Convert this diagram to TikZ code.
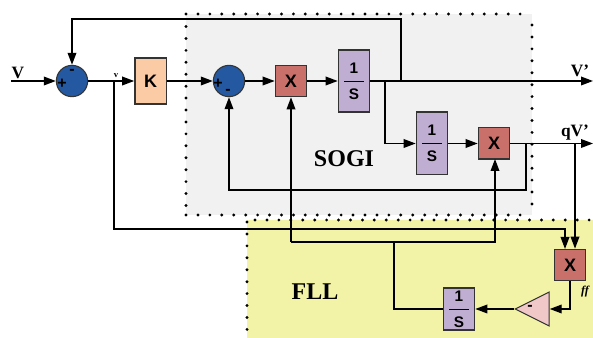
\documentclass[tikz,border=0pt]{standalone}
\usepackage{amsmath}
\usepackage{fontspec}
\setmainfont{Liberation Serif}
\setsansfont{Liberation Sans}
\usetikzlibrary{arrows.meta,shapes.geometric}
\definecolor{sogigray}{HTML}{F1F1F1}
\definecolor{fllyellow}{HTML}{F3F3A8}
\definecolor{sumblue}{HTML}{2458A0}
\definecolor{gainorange}{HTML}{FBCBA5}
\definecolor{multred}{HTML}{C9706A}
\definecolor{intpurple}{HTML}{BFAED2}
\definecolor{trianglepink}{HTML}{F0C8C8}
\definecolor{edgegray}{HTML}{333333}
\newcommand{\oneovers}{$\displaystyle\frac{\makebox[15pt]{\sffamily\bfseries\fontsize{11.5}{11.5}\selectfont 1}}{\makebox[15pt]{\sffamily\bfseries\fontsize{11.5}{11.5}\selectfont S}}$}
\tikzset{
  every picture/.style={line join=miter, >={Triangle[length=9pt,width=6.5pt]}},
  wire/.style={line width=1.05pt},
  dots/.style={line width=2.4pt, line cap=round, dash pattern=on 0pt off 8.95pt},
  block/.style={draw=edgegray, line width=1pt, inner sep=0pt, font=\sffamily\bfseries\fontsize{13.5}{13.5}\selectfont},
  sumnode/.style={circle, draw=edgegray, line width=0.8pt, fill=sumblue, minimum size=23.5pt, inner sep=0pt},
  sign/.style={inner sep=0pt, font=\sffamily\bfseries\fontsize{12}{12}\selectfont},
  gainbox/.style={block, fill=gainorange, minimum width=23.5pt, minimum height=34.5pt},
  multbox/.style={block, fill=multred, minimum width=23.5pt, minimum height=23.5pt},
  intbox/.style={block, fill=intpurple, minimum width=23.5pt},
  signal/.style={inner sep=0pt, font=\bfseries\fontsize{13}{13}\selectfont},
  region/.style={inner sep=0pt, font=\bfseries\fontsize{18}{18}\selectfont},
}
\begin{document}
\begin{tikzpicture}[x=0.75pt,y=-0.75pt]
\useasboundingbox (0,0) rectangle (593,338);
% regions
\fill[sogigray](186,14)rectangle(532,215);
\fill[fllyellow](247,220)rectangle(593,338);
\draw[dots](186,14)--(532,14)
(186,26.5)--(186,206)
(186,215)--(522,215)
(532,25)--(532,206);
\draw[dots](255,220)--(592,220)
(247,222)--(247,332);
\node[region] (sogi) at (344,159) {SOGI};
\node[region] (fll) at (315,292) {FLL};
% blocks
\node[sumnode] (sum1) at (72,81) {};
\node[sumnode] (sum2) at (229,81) {};
\node[gainbox] (k) at (150.5,81) {K};
\node[multbox] (x1) at (291,81) {X};
\node[intbox,minimum height=46.5pt] (int1) at (354,81) {\oneovers};
\node[intbox,minimum height=47pt] (int2) at (432,143.5) {\oneovers};
\node[multbox] (x2) at (494,143.5) {X};
\node[multbox] (x3) at (570,265) {X};
\node[intbox,minimum height=31.5pt] (int3) at (459,309) {\oneovers};
\node[isosceles triangle,shape border rotate=180,isosceles triangle apex angle=53,
  isosceles triangle stretches,draw=edgegray,line width=0.8pt,fill=trianglepink,
  minimum width=25.5pt,minimum height=25.5pt,inner sep=0pt,anchor=apex] (gain) at (514,309) {};
% signs
\node[sign] (s1m) at (72,71.5) {-};
\node[sign] (s1p) at (62,84) {+};
\node[sign] (s2p) at (218,84) {+};
\node[sign] (s2m) at (228,92) {-};
\node[sign] (gm) at (530,307.5) {-};
% labels
\node[signal] (vin) at (18,73) {V};
\node[inner sep=0pt,font=\bfseries\fontsize{6.5}{6.5}\selectfont] (verr) at (116,76) {v};
\node[signal] (vout) at (580,71) {V’};
\node[signal] (qvout) at (575,133) {qV’};
\node[inner sep=0pt,font=\itshape\bfseries\fontsize{9}{9}\selectfont] (ff) at (585,292) {ff};
% branch points
\coordinate (in) at (11,81);
\coordinate (out1) at (593,81);
\coordinate (out2) at (593,143.5);
\coordinate (bv) at (114,81);
\coordinate (b1) at (401,81);
\coordinate (b2) at (385,81);
\coordinate (b3) at (526,143.5);
\coordinate (b4) at (575,143.5);
\coordinate (b5) at (394,242);
% forward path
\draw[wire,->](in)--(sum1);
\draw[wire,->](sum1)--(k);
\draw[wire,->](k)--(sum2);
\draw[wire,->](sum2)--(x1);
\draw[wire,->](x1)--(int1);
\draw[wire,->](int1)--(out1);
\draw[wire,->](b2)--(b2|-int2)--(int2);
\draw[wire,->](int2)--(x2);
\draw[wire,->](x2)--(out2);
% feedback
\draw[wire,->](b1)--(401,19)--(72,19)--(sum1);
\draw[wire,->](b3)--(526,190)--(229,190)--(sum2);
% frequency loop
\draw[wire,->](bv)--(114,229)--(565,229)--(565,249);
\draw[wire,->](b4)--(b4|-x3.north);
\draw[wire,->](x3)--(570,309)--(gain.east);
\draw[wire,->](gain.apex)--(int3);
\draw[wire](int3)--(394,309)--(b5);
\draw[wire,->](x1|-b5)--(x1);
\draw[wire,->](x1|-b5)--(495,242)--(495,159);
\end{tikzpicture}
\end{document}
